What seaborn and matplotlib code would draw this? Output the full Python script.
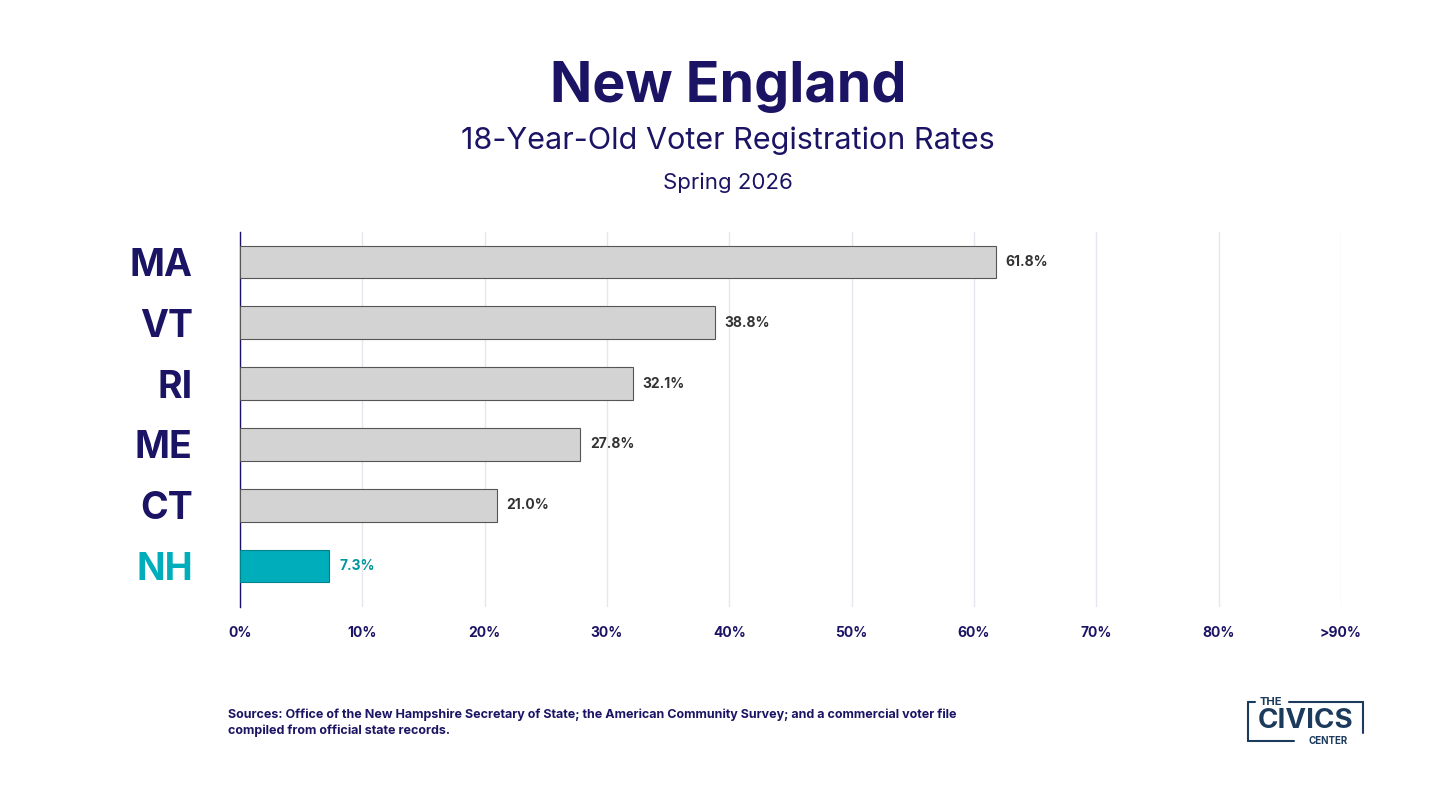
import matplotlib
matplotlib.use("Agg")
import matplotlib.pyplot as plt
import seaborn as sns
import pandas as pd

states = ["MA", "VT", "RI", "ME", "CT", "NH"]
rates = [61.8, 38.8, 32.1, 27.8, 21.0, 7.3]
tick_vals = [0, 10, 20, 30, 40, 50, 60, 70, 80, 90]
tick_labels = ["0%", "10%", "20%", "30%", "40%", "50%", "60%", "70%", "80%", ">90%"]

navy = "#1b1464"
teal = "#00adbb"
grey = "#d3d3d3"

sns.set_style("white")
plt.rcParams["font.family"] = ["Inter", "DejaVu Sans"]

df = pd.DataFrame({"state": states, "rate": rates})
colors = [teal if s == "NH" else grey for s in states]

fig = plt.figure(figsize=(14.56, 7.9), dpi=100)
ax = fig.add_axes([0.1648, 0.232, 0.7562, 0.474])
sns.barplot(data=df, x="rate", y="state", hue="state", palette=colors,
            saturation=1, legend=False, width=0.54, edgecolor="#555555",
            linewidth=0.8, ax=ax, zorder=3)
ax.patches[-1].set_edgecolor("#00828c")

ax.set_xlim(0, 90)
ax.set_ylim(5.67, -0.49)
ax.set_xticks(tick_vals)
ax.set_xticklabels(tick_labels, fontsize=10, fontweight="bold", color=navy)
ax.tick_params(axis="x", length=0, pad=14)
ax.tick_params(axis="y", length=0, pad=34)
ax.grid(axis="x", color="#e6e6ee", linewidth=1, zorder=0)
ax.set_xlabel("")
ax.set_ylabel("")
for lab in ax.get_yticklabels():
    lab.set_fontsize(27)
    lab.set_fontweight("bold")
    lab.set_color(teal if lab.get_text() == "NH" else navy)
for sp in ["top", "right", "bottom"]:
    ax.spines[sp].set_visible(False)
ax.spines["left"].set_color(navy)
ax.spines["left"].set_linewidth(1)

for i, (s, v) in enumerate(zip(states, rates)):
    ax.text(v + 0.8, i, f"{v:.1f}%", va="center", ha="left", fontsize=10,
            fontweight="bold", color="#00969f" if s == "NH" else "#333333")

fig.text(0.5, 0.89, "New England", ha="center", va="center", fontsize=40,
         fontweight="bold", color=navy)
fig.text(0.5, 0.822, "18-Year-Old Voter Registration Rates", ha="center",
         va="center", fontsize=22, color=navy)
fig.text(0.5, 0.769, "Spring 2026", ha="center", va="center", fontsize=16,
         color=navy)
fig.text(0.1566, 0.085, "Sources: Office of the New Hampshire Secretary of State; the American Community Survey; and a commercial voter file\ncompiled from official state records.",
         ha="left", va="center", fontsize=9, fontweight="bold", color=navy,
         linespacing=1.3)

# logo
logo = "#1c3a5c"
fx0, fx1, fy0, fy1 = 0.857, 0.936, 0.062, 0.111
fig.text(0.873, fy1, "THE", ha="center", va="center", fontsize=8, fontweight="bold", color=logo)
fig.text(0.8965, 0.087, "CIVICS", ha="center", va="center", fontsize=20, fontweight="bold", color=logo)
fig.text(0.912, fy0, "CENTER", ha="center", va="center", fontsize=7, fontweight="bold", color=logo)
fig.add_artist(plt.Line2D([fx0, 0.862], [fy1, fy1], color=logo, lw=1.5))
fig.add_artist(plt.Line2D([0.885, fx1], [fy1, fy1], color=logo, lw=1.5))
fig.add_artist(plt.Line2D([fx0, fx0], [fy0, fy1], color=logo, lw=1.5))
fig.add_artist(plt.Line2D([fx1, fx1], [0.072, fy1], color=logo, lw=1.5))
fig.add_artist(plt.Line2D([fx0, 0.889], [fy0, fy0], color=logo, lw=1.5))

fig.savefig("out.png", dpi=100, facecolor="white")
